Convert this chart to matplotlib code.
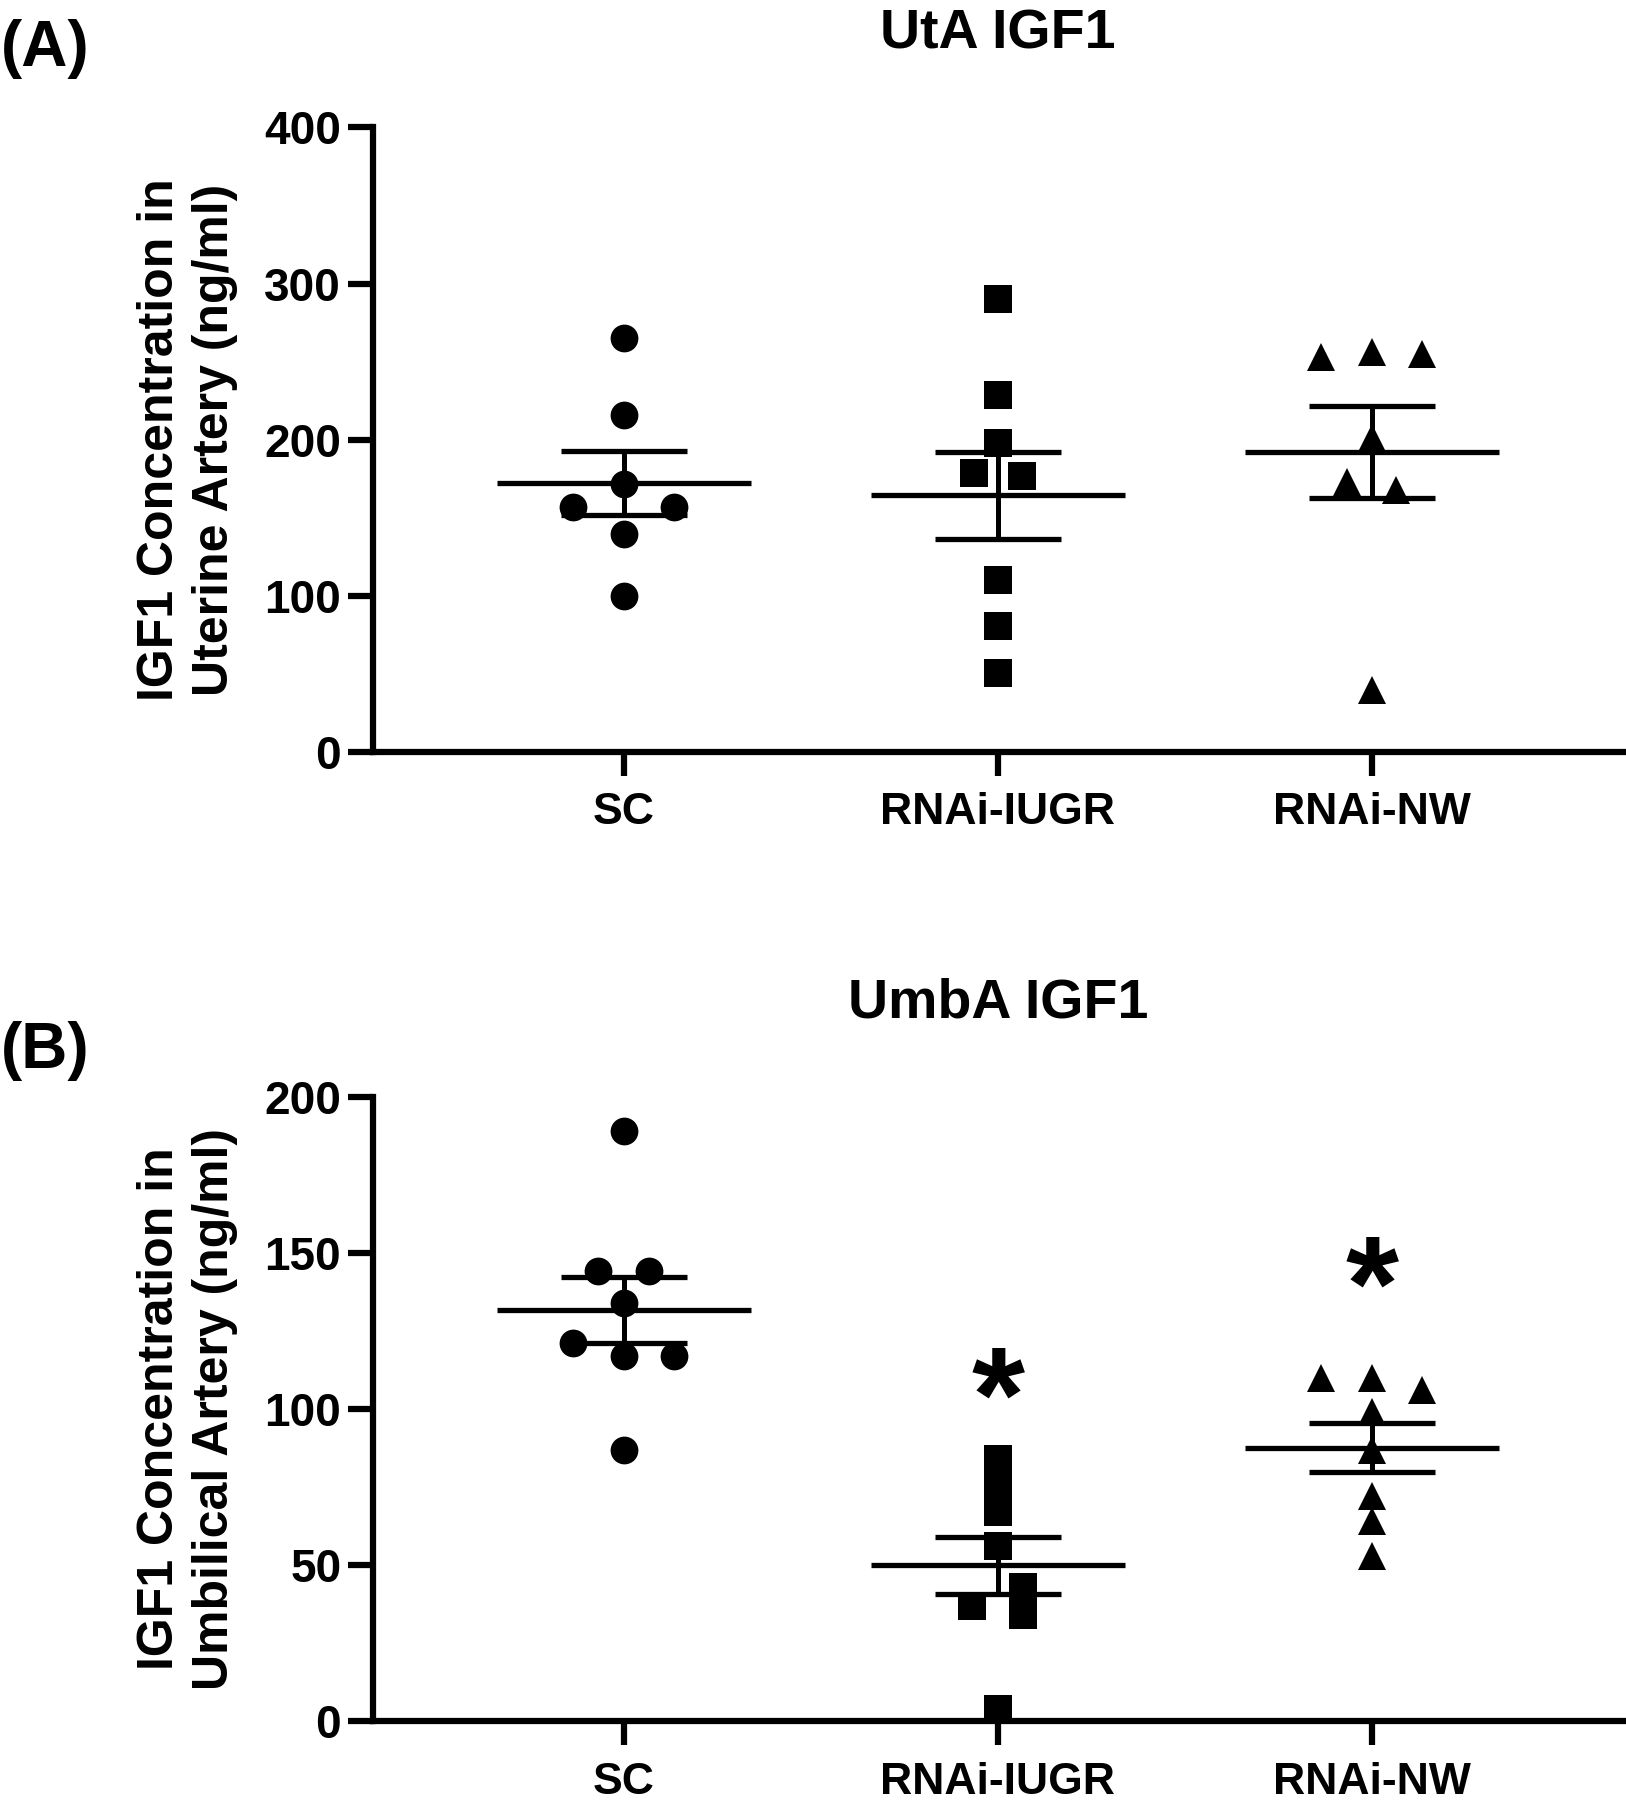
import matplotlib
matplotlib.use('Agg')
import matplotlib.pyplot as plt
import numpy as np

plt.rcParams['font.family'] = ['Liberation Sans', 'DejaVu Sans']

groups = ['SC', 'RNAi-IUGR', 'RNAi-NW']

# (A) uterine artery, ng/ml
uta_sc = [265, 216, 172, 157, 157, 140, 100]
uta_iugr = [290, 229, 198, 179, 177, 110, 81, 51]
uta_nw = [253, 256, 255, 201, 173, 168, 40]

# (B) umbilical artery, ng/ml
umb_sc = [189, 144, 144, 134, 121, 117, 117, 87]
umb_iugr = [84, 75, 67, 56, 43, 37, 34, 4]
umb_nw = [110, 110, 106, 99, 87, 72, 64, 53]

# horizontal scatter of overlapping points (category units)
uta_jit = [[0, 0, 0, -0.135, 0.135, 0, 0],
           [0, 0, 0, -0.065, 0.065, 0, 0, 0],
           [-0.135, 0, 0.135, 0, -0.068, 0.065, 0]]
umb_jit = [[0, -0.068, 0.068, 0, -0.137, 0, 0.135, 0],
           [0, 0, 0, 0, 0.067, -0.069, 0.067, 0],
           [-0.137, 0, 0.135, 0, 0, 0, 0, 0]]

umb_stars = ['', '*', '*']
umb_star_y = [0, 112, 147.5]

markers = ['o', 's', '^']


def panel(ax, data, jit, title, ylabel, ymax, step, letter, letter_y):
    for i, vals in enumerate(data):
        vals = np.array(vals, dtype=float)
        x = i + np.array(jit[i])
        ax.plot(x, vals, ls='none', marker=markers[i], ms=20, color='k', mew=0, zorder=3)
        m = vals.mean()
        sem = vals.std(ddof=1) / np.sqrt(len(vals))
        ax.hlines(m, i - 0.34, i + 0.34, color='k', lw=3.8, zorder=4)
        ax.hlines([m - sem, m + sem], i - 0.168, i + 0.168, color='k', lw=3.8, zorder=4)
        ax.vlines(i, m - sem, m + sem, color='k', lw=3.6, zorder=4)

    ax.set_xlim(-0.67, 2.67)
    ax.set_ylim(0, ymax)
    ax.set_yticks(np.arange(0, ymax + 1, step))
    ax.set_xticks(range(len(groups)))
    ax.set_xticklabels(groups)
    for s in ['top', 'right']:
        ax.spines[s].set_visible(False)
    for s in ['left', 'bottom']:
        ax.spines[s].set_linewidth(4.5)
        ax.spines[s].set_capstyle('projecting')
    ax.tick_params(axis='y', length=18, width=4.5, pad=5, labelsize=33)
    ax.tick_params(axis='x', length=17, width=4.5, pad=12, labelsize=32)
    for lab in ax.get_xticklabels() + ax.get_yticklabels():
        lab.set_fontweight('bold')
    ax.set_title(title, fontsize=40, fontweight='bold', pad=57)
    ax.set_ylabel(ylabel, fontsize=36, fontweight='bold', linespacing=1.25)
    ax.yaxis.set_label_coords(-0.108, 0.5)
    ax.text(-0.298, letter_y, letter, transform=ax.transAxes, fontsize=46,
            fontweight='bold', ha='left', va='center')


fig = plt.figure(figsize=(16.26, 18), dpi=100)
ax1 = fig.add_axes([0.2295, 0.5821, 0.7684, 0.3471])
ax2 = fig.add_axes([0.2295, 0.0437, 0.7684, 0.3471])

panel(ax1, [uta_sc, uta_iugr, uta_nw], uta_jit, 'UtA IGF1',
      'IGF1 Concentration in\nUterine Artery (ng/ml)', 400, 100, '(A)', 1.125)
panel(ax2, [umb_sc, umb_iugr, umb_nw], umb_jit, 'UmbA IGF1',
      'IGF1 Concentration in\nUmbilical Artery (ng/ml)', 200, 50, '(B)', 1.073)

for i, s in enumerate(umb_stars):
    if s:
        ax2.annotate(s, xy=(i, umb_star_y[i]), xytext=(0, -50), textcoords='offset points',
                     ha='center', va='baseline', fontsize=98, fontweight='bold')

fig.savefig('out.png', dpi=100)
